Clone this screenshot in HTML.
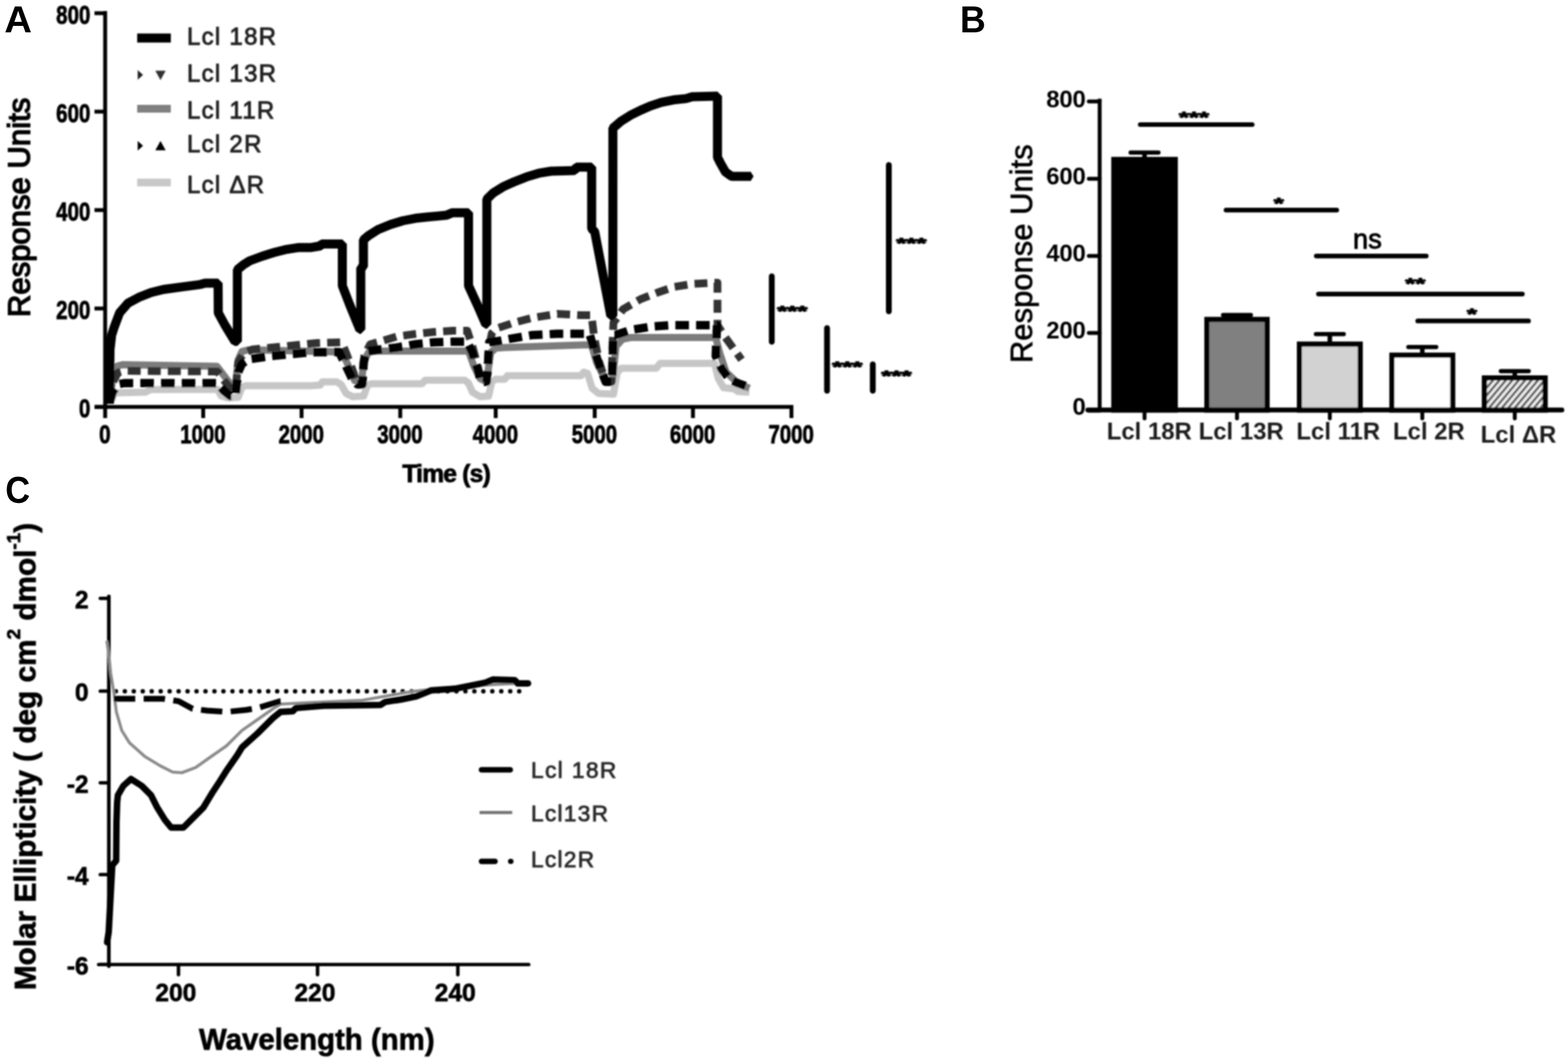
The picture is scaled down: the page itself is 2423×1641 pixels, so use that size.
<!DOCTYPE html>
<html lang="en"><head><meta charset="utf-8"><title>Figure</title>
<style>
html,body{margin:0;padding:0;background:#fff;}
body{width:2423px;height:1641px;overflow:hidden;}
svg{display:block;}
text{white-space:pre;}
</style></head><body>
<svg width="2423" height="1641" viewBox="0 0 2423 1641">
<defs>
<filter id="bl" x="-5%" y="-5%" width="110%" height="110%"><feGaussianBlur stdDeviation="1.3"/></filter>
<pattern id="hatch" width="7.6" height="7.6" patternUnits="userSpaceOnUse" patternTransform="rotate(-50)">
<rect width="7.6" height="7.6" fill="#f0f0f0"/><rect width="7.6" height="3.6" fill="#5a5a5a"/></pattern>
</defs>
<rect width="2423" height="1641" fill="#fff"/>

<text x="0" y="0" font-family="'Liberation Sans', Arial, Helvetica, sans-serif" font-size="57" font-weight="bold" text-anchor="start" fill="#000" letter-spacing="0" transform="translate(6.7 50) scale(1.035 1)" >A</text>
<text x="0" y="0" font-family="'Liberation Sans', Arial, Helvetica, sans-serif" font-size="57" font-weight="bold" text-anchor="start" fill="#000" letter-spacing="0" transform="translate(1483.5 50) scale(0.965 1)" >B</text>
<text x="0" y="0" font-family="'Liberation Sans', Arial, Helvetica, sans-serif" font-size="57" font-weight="bold" text-anchor="start" fill="#000" letter-spacing="0" transform="translate(8.2 777.2) scale(0.928 1.01)" >C</text>
<g filter="url(#bl)">
<line x1="162.5" y1="17" x2="162.5" y2="632" stroke="#000" stroke-width="6" stroke-linecap="butt" />
<line x1="146" y1="628.8" x2="1226" y2="628.8" stroke="#000" stroke-width="6" stroke-linecap="butt" />
<line x1="146" y1="628.8" x2="162.5" y2="628.8" stroke="#000" stroke-width="6" stroke-linecap="butt" />
<text x="0" y="0" font-family="'Liberation Sans', Arial, Helvetica, sans-serif" font-size="41" font-weight="bold" text-anchor="end" fill="#000" letter-spacing="0" transform="translate(139.5 645.3) scale(0.77 1)" stroke="#000" stroke-width="1.2">0</text>
<line x1="146" y1="476.69999999999993" x2="162.5" y2="476.69999999999993" stroke="#000" stroke-width="6" stroke-linecap="butt" />
<text x="0" y="0" font-family="'Liberation Sans', Arial, Helvetica, sans-serif" font-size="41" font-weight="bold" text-anchor="end" fill="#000" letter-spacing="0" transform="translate(139.5 493.19999999999993) scale(0.77 1)" stroke="#000" stroke-width="1.2">200</text>
<line x1="146" y1="324.59999999999997" x2="162.5" y2="324.59999999999997" stroke="#000" stroke-width="6" stroke-linecap="butt" />
<text x="0" y="0" font-family="'Liberation Sans', Arial, Helvetica, sans-serif" font-size="41" font-weight="bold" text-anchor="end" fill="#000" letter-spacing="0" transform="translate(139.5 341.09999999999997) scale(0.77 1)" stroke="#000" stroke-width="1.2">400</text>
<line x1="146" y1="172.5" x2="162.5" y2="172.5" stroke="#000" stroke-width="6" stroke-linecap="butt" />
<text x="0" y="0" font-family="'Liberation Sans', Arial, Helvetica, sans-serif" font-size="41" font-weight="bold" text-anchor="end" fill="#000" letter-spacing="0" transform="translate(139.5 189.0) scale(0.77 1)" stroke="#000" stroke-width="1.2">600</text>
<line x1="146" y1="20.399999999999977" x2="162.5" y2="20.399999999999977" stroke="#000" stroke-width="6" stroke-linecap="butt" />
<text x="0" y="0" font-family="'Liberation Sans', Arial, Helvetica, sans-serif" font-size="41" font-weight="bold" text-anchor="end" fill="#000" letter-spacing="0" transform="translate(139.5 36.89999999999998) scale(0.77 1)" stroke="#000" stroke-width="1.2">800</text>
<line x1="162.5" y1="628.8" x2="162.5" y2="646" stroke="#000" stroke-width="6" stroke-linecap="butt" />
<text x="0" y="0" font-family="'Liberation Sans', Arial, Helvetica, sans-serif" font-size="41" font-weight="bold" text-anchor="middle" fill="#000" letter-spacing="0" transform="translate(162.0 684.5) scale(0.77 1)" stroke="#000" stroke-width="1.2">0</text>
<line x1="314" y1="628.8" x2="314" y2="646" stroke="#000" stroke-width="6" stroke-linecap="butt" />
<text x="0" y="0" font-family="'Liberation Sans', Arial, Helvetica, sans-serif" font-size="41" font-weight="bold" text-anchor="middle" fill="#000" letter-spacing="0" transform="translate(313.5 684.5) scale(0.77 1)" stroke="#000" stroke-width="1.2">1000</text>
<line x1="466" y1="628.8" x2="466" y2="646" stroke="#000" stroke-width="6" stroke-linecap="butt" />
<text x="0" y="0" font-family="'Liberation Sans', Arial, Helvetica, sans-serif" font-size="41" font-weight="bold" text-anchor="middle" fill="#000" letter-spacing="0" transform="translate(465.5 684.5) scale(0.77 1)" stroke="#000" stroke-width="1.2">2000</text>
<line x1="618.5" y1="628.8" x2="618.5" y2="646" stroke="#000" stroke-width="6" stroke-linecap="butt" />
<text x="0" y="0" font-family="'Liberation Sans', Arial, Helvetica, sans-serif" font-size="41" font-weight="bold" text-anchor="middle" fill="#000" letter-spacing="0" transform="translate(618.0 684.5) scale(0.77 1)" stroke="#000" stroke-width="1.2">3000</text>
<line x1="766" y1="628.8" x2="766" y2="646" stroke="#000" stroke-width="6" stroke-linecap="butt" />
<text x="0" y="0" font-family="'Liberation Sans', Arial, Helvetica, sans-serif" font-size="41" font-weight="bold" text-anchor="middle" fill="#000" letter-spacing="0" transform="translate(765.5 684.5) scale(0.77 1)" stroke="#000" stroke-width="1.2">4000</text>
<line x1="919" y1="628.8" x2="919" y2="646" stroke="#000" stroke-width="6" stroke-linecap="butt" />
<text x="0" y="0" font-family="'Liberation Sans', Arial, Helvetica, sans-serif" font-size="41" font-weight="bold" text-anchor="middle" fill="#000" letter-spacing="0" transform="translate(918.5 684.5) scale(0.77 1)" stroke="#000" stroke-width="1.2">5000</text>
<line x1="1070.8" y1="628.8" x2="1070.8" y2="646" stroke="#000" stroke-width="6" stroke-linecap="butt" />
<text x="0" y="0" font-family="'Liberation Sans', Arial, Helvetica, sans-serif" font-size="41" font-weight="bold" text-anchor="middle" fill="#000" letter-spacing="0" transform="translate(1070.3 684.5) scale(0.77 1)" stroke="#000" stroke-width="1.2">6000</text>
<line x1="1223" y1="628.8" x2="1223" y2="646" stroke="#000" stroke-width="6" stroke-linecap="butt" />
<text x="0" y="0" font-family="'Liberation Sans', Arial, Helvetica, sans-serif" font-size="41" font-weight="bold" text-anchor="middle" fill="#000" letter-spacing="0" transform="translate(1222.5 684.5) scale(0.77 1)" stroke="#000" stroke-width="1.2">7000</text>
<text x="689.5" y="745" font-family="'Liberation Sans', Arial, Helvetica, sans-serif" font-size="38" font-weight="bold" text-anchor="middle" fill="#000" letter-spacing="-1.2" stroke="#000" stroke-width="1.2">Time (s)</text>
<text x="45.5" y="320.5" font-family="'Liberation Sans', Arial, Helvetica, sans-serif" font-size="48" font-weight="normal" text-anchor="middle" fill="#000" letter-spacing="0" transform="rotate(-90 45.5 320.5)" textLength="339" lengthAdjust="spacing" stroke="#000" stroke-width="2.1">Response Units</text>
<line x1="212" y1="58.7" x2="264" y2="58.7" stroke="#000" stroke-width="14" stroke-linecap="butt" />
<line x1="212" y1="168" x2="264" y2="168" stroke="#808080" stroke-width="12" stroke-linecap="butt" />
<line x1="212" y1="282" x2="264" y2="282" stroke="#c8c8c8" stroke-width="12" stroke-linecap="butt" />
<polygon points="212.75,108.3 221.0,115.8 212.75,123.3" fill="#222"/>
<polygon points="240,109.3 256,109.3 248,123.7" fill="#333"/>
<polygon points="212.75,217.7 221.0,225.2 212.75,232.7" fill="#000"/>
<polygon points="240,232.2 256,232.2 248,217.8" fill="#000"/>
<text x="289" y="68.5" font-family="'Liberation Sans', Arial, Helvetica, sans-serif" font-size="37" font-weight="normal" text-anchor="start" fill="#222" letter-spacing="2" stroke="#222" stroke-width="1.3">Lcl 18R</text>
<text x="289" y="125.7" font-family="'Liberation Sans', Arial, Helvetica, sans-serif" font-size="37" font-weight="normal" text-anchor="start" fill="#222" letter-spacing="2" stroke="#222" stroke-width="1.3">Lcl 13R</text>
<text x="289" y="183" font-family="'Liberation Sans', Arial, Helvetica, sans-serif" font-size="37" font-weight="normal" text-anchor="start" fill="#222" letter-spacing="2" stroke="#222" stroke-width="1.3">Lcl 11R</text>
<text x="289" y="235" font-family="'Liberation Sans', Arial, Helvetica, sans-serif" font-size="37" font-weight="normal" text-anchor="start" fill="#222" letter-spacing="2" stroke="#222" stroke-width="1.3">Lcl 2R</text>
<text x="289" y="298" font-family="'Liberation Sans', Arial, Helvetica, sans-serif" font-size="37" font-weight="normal" text-anchor="start" fill="#222" letter-spacing="2" stroke="#222" stroke-width="1.3">Lcl ΔR</text>
<polyline points="172.0,618.0 177.0,607.0 225.0,606.0 232.0,602.0 336.0,601.5 342.0,612.0 352.0,615.0 368.0,614.0 374.0,598.0 380.0,596.0 480.0,596.0 495.0,595.0 498.0,590.0 520.0,590.0 527.0,594.0 535.0,608.0 545.0,613.0 562.0,612.0 568.0,595.0 574.0,593.0 652.0,593.0 657.0,587.5 718.0,587.5 724.0,592.0 730.0,606.0 742.0,613.0 755.0,612.0 760.0,590.0 766.0,586.0 780.0,586.0 784.0,580.6 898.0,580.6 902.0,575.0 908.0,577.0 915.0,600.0 925.0,608.0 948.0,609.0 954.0,575.0 960.0,569.0 1014.0,569.0 1020.0,561.5 1104.0,561.5 1110.0,585.0 1118.0,599.0 1135.0,601.0 1140.0,605.0 1158.0,606.0" fill="none" stroke="#c6c6c6" stroke-width="11" stroke-linejoin="round" stroke-linecap="butt" />
<polyline points="170.0,620.0 174.0,585.0 180.0,566.0 190.0,563.4 335.0,566.0 342.0,575.0 355.0,592.0 364.0,596.0 368.0,556.0 374.0,543.0 384.0,540.5 528.0,544.0 536.0,560.0 548.0,588.0 558.0,592.0 563.0,556.0 570.0,544.0 580.0,542.5 724.0,542.5 732.0,565.0 742.0,585.0 752.0,590.0 758.0,545.0 766.0,538.0 780.0,537.0 900.0,533.0 914.0,533.0 922.0,560.0 936.0,588.0 946.0,590.0 952.0,535.0 962.0,524.0 975.0,521.5 1106.0,521.5 1112.0,545.0 1122.0,575.0 1140.0,592.0 1158.0,600.0" fill="none" stroke="#7c7c7c" stroke-width="11" stroke-linejoin="round" stroke-linecap="butt" />
<polyline points="170.0,620.0 174.0,592.0 182.0,576.0 192.0,573.0 336.0,574.0 344.0,585.0 356.0,600.0 364.0,604.0 368.0,560.0 376.0,546.0 390.0,540.0 420.0,537.0 460.0,533.0 490.0,530.0 528.0,529.0 536.0,548.0 546.0,575.0 552.0,594.0 560.0,594.0 563.0,550.0 572.0,532.0 590.0,527.0 613.0,520.0 642.0,516.0 670.0,513.0 700.0,511.0 722.0,511.0 730.0,535.0 738.0,565.0 744.0,590.0 752.0,590.0 755.0,540.0 760.0,515.0 766.0,508.0 794.0,498.6 823.0,491.0 861.0,485.0 898.0,487.0 914.0,487.0 918.0,520.0 926.0,560.0 936.0,590.0 945.0,590.0 947.0,520.0 948.0,498.6 963.0,477.7 989.6,462.4 1016.3,452.0 1041.0,443.4 1071.5,438.6 1108.7,436.7 1108.7,502.4 1120.0,520.0 1145.9,555.8" fill="none" stroke="#333" stroke-width="12" stroke-linejoin="round" stroke-linecap="butt" stroke-dasharray="20 11" />
<polyline points="170.0,620.0 174.0,606.0 182.0,594.0 192.0,592.0 336.0,592.0 346.0,604.0 356.0,612.0 364.0,612.0 368.0,575.0 374.0,562.0 385.0,555.0 420.0,550.0 480.0,544.4 524.0,544.0 532.0,560.0 544.0,585.0 552.4,594.0 560.0,594.0 562.0,560.0 566.0,543.0 580.0,541.0 613.0,537.0 642.0,532.0 670.0,529.0 700.0,528.0 722.0,528.0 730.0,545.0 738.0,570.0 743.0,590.0 752.0,590.0 754.4,560.0 756.0,529.0 770.0,527.0 789.0,523.4 823.0,517.7 861.0,515.8 911.0,515.8 918.0,540.0 928.0,570.0 936.0,590.0 946.0,590.0 947.7,517.7 951.0,517.7 974.0,510.0 1008.6,504.4 1037.0,502.4 1108.0,502.4 1106.0,550.0 1115.0,570.0 1127.0,586.0 1140.0,592.0 1161.0,599.6" fill="none" stroke="#000" stroke-width="13" stroke-linejoin="round" stroke-linecap="butt" stroke-dasharray="21 11" />
<polyline points="169.0,624.0 170.0,540.0 172.5,518.0 176.2,506.3 184.8,483.4 198.1,468.2 214.3,459.6 233.4,452.0 252.5,447.2 281.0,443.4 309.6,439.6 317.0,437.5 337.0,437.5 337.3,483.4 347.7,502.5 363.0,527.5 366.8,527.5 366.8,416.7 376.3,409.0 385.9,403.0 405.0,396.0 424.0,390.0 443.0,385.3 462.0,382.4 481.0,382.4 495.0,380.0 497.0,377.0 529.0,377.0 529.0,441.5 540.0,470.0 556.0,509.0 557.5,509.0 557.5,414.0 561.6,412.0 561.6,370.6 569.6,364.0 584.8,354.4 603.9,346.8 622.9,341.0 642.0,337.3 661.0,335.3 690.0,332.5 699.0,328.7 724.0,328.7 724.0,441.5 738.0,472.0 750.6,501.0 752.3,501.0 752.3,307.7 762.0,298.2 777.3,288.7 794.4,281.0 813.5,273.4 832.5,267.7 851.6,264.5 888.0,263.5 890.5,258.2 914.3,258.2 914.3,353.5 919.0,358.0 943.9,488.0 947.0,488.0 947.1,198.1 959.1,187.7 974.3,178.1 989.6,170.5 1004.8,163.8 1022.0,158.1 1041.0,154.3 1060.0,152.4 1069.6,149.5 1108.7,148.6 1108.7,243.0 1113.5,252.5 1121.0,265.8 1130.6,272.5 1160.5,272.5" fill="none" stroke="#000" stroke-width="14" stroke-linejoin="bevel" stroke-linecap="butt" />
<polygon points="1160,265.5 1164.5,272.5 1160,279.5" fill="#000"/>
<line x1="1192.6" y1="427" x2="1192.6" y2="528" stroke="#000" stroke-width="9" stroke-linecap="round" />
<text x="0" y="0" font-family="'Liberation Sans', Arial, Helvetica, sans-serif" font-size="40" font-weight="bold" text-anchor="start" fill="#000" letter-spacing="0" transform="translate(1201 488) scale(1 0.55)" stroke="#000" stroke-width="2.6" stroke-linejoin="round">***</text>
<line x1="1373.5" y1="255" x2="1373.5" y2="481" stroke="#000" stroke-width="9" stroke-linecap="round" />
<text x="0" y="0" font-family="'Liberation Sans', Arial, Helvetica, sans-serif" font-size="40" font-weight="bold" text-anchor="start" fill="#000" letter-spacing="0" transform="translate(1385 383.5) scale(1 0.55)" stroke="#000" stroke-width="2.6" stroke-linejoin="round">***</text>
<line x1="1278" y1="507" x2="1278" y2="603.8" stroke="#000" stroke-width="9" stroke-linecap="round" />
<text x="0" y="0" font-family="'Liberation Sans', Arial, Helvetica, sans-serif" font-size="40" font-weight="bold" text-anchor="start" fill="#000" letter-spacing="0" transform="translate(1286 574) scale(1 0.55)" stroke="#000" stroke-width="2.6" stroke-linejoin="round">***</text>
<line x1="1348.7" y1="563" x2="1348.7" y2="603.8" stroke="#000" stroke-width="9" stroke-linecap="round" />
<text x="0" y="0" font-family="'Liberation Sans', Arial, Helvetica, sans-serif" font-size="40" font-weight="bold" text-anchor="start" fill="#000" letter-spacing="0" transform="translate(1362 588) scale(1 0.55)" stroke="#000" stroke-width="2.6" stroke-linejoin="round">***</text>
<line x1="1699.3" y1="152.5" x2="1699.3" y2="637" stroke="#000" stroke-width="6" stroke-linecap="butt" />
<line x1="1681" y1="633.6" x2="2413.5" y2="633.6" stroke="#000" stroke-width="7.5" stroke-linecap="round" />
<line x1="1682.5" y1="634.5" x2="1699.3" y2="634.5" stroke="#000" stroke-width="6" stroke-linecap="round" />
<text x="1677.5" y="641.4" font-family="'Liberation Sans', Arial, Helvetica, sans-serif" font-size="37" font-weight="bold" text-anchor="end" fill="#000" letter-spacing="-0.3" >0</text>
<line x1="1682.5" y1="514.5" x2="1699.3" y2="514.5" stroke="#000" stroke-width="6" stroke-linecap="round" />
<text x="1677.5" y="522.5" font-family="'Liberation Sans', Arial, Helvetica, sans-serif" font-size="37" font-weight="bold" text-anchor="end" fill="#000" letter-spacing="-0.3" >200</text>
<line x1="1682.5" y1="395.6" x2="1699.3" y2="395.6" stroke="#000" stroke-width="6" stroke-linecap="round" />
<text x="1677.5" y="403.6" font-family="'Liberation Sans', Arial, Helvetica, sans-serif" font-size="37" font-weight="bold" text-anchor="end" fill="#000" letter-spacing="-0.3" >400</text>
<line x1="1682.5" y1="276.3" x2="1699.3" y2="276.3" stroke="#000" stroke-width="6" stroke-linecap="round" />
<text x="1677.5" y="284.7" font-family="'Liberation Sans', Arial, Helvetica, sans-serif" font-size="37" font-weight="bold" text-anchor="end" fill="#000" letter-spacing="-0.3" >600</text>
<line x1="1682.5" y1="156.8" x2="1699.3" y2="156.8" stroke="#000" stroke-width="6" stroke-linecap="round" />
<text x="1677.5" y="165.8" font-family="'Liberation Sans', Arial, Helvetica, sans-serif" font-size="37" font-weight="bold" text-anchor="end" fill="#000" letter-spacing="-0.3" >800</text>
<rect x="1721.2" y="246.4" width="94.9" height="387.2" fill="#000" stroke="#000" stroke-width="8"/>
<line x1="1768.65" y1="235.8" x2="1768.65" y2="244.4" stroke="#000" stroke-width="7" stroke-linecap="butt" />
<line x1="1747.15" y1="235.8" x2="1790.15" y2="235.8" stroke="#000" stroke-width="6.5" stroke-linecap="round" />
<line x1="1768.65" y1="633.6" x2="1768.65" y2="646.6" stroke="#000" stroke-width="6" stroke-linecap="round" />
<rect x="1865.0" y="493.6" width="93.0" height="140.0" fill="#808080" stroke="#000" stroke-width="8"/>
<line x1="1911.5" y1="486.7" x2="1911.5" y2="491.6" stroke="#000" stroke-width="7" stroke-linecap="butt" />
<line x1="1890.0" y1="486.7" x2="1933.0" y2="486.7" stroke="#000" stroke-width="6.5" stroke-linecap="round" />
<line x1="1911.5" y1="633.6" x2="1911.5" y2="646.6" stroke="#000" stroke-width="6" stroke-linecap="round" />
<rect x="2008.0" y="531.7" width="93.9" height="101.9" fill="#d2d2d2" stroke="#000" stroke-width="8"/>
<line x1="2054.95" y1="516.2" x2="2054.95" y2="529.7" stroke="#000" stroke-width="7" stroke-linecap="butt" />
<line x1="2033.4499999999998" y1="516.2" x2="2076.45" y2="516.2" stroke="#000" stroke-width="6.5" stroke-linecap="round" />
<line x1="2054.95" y1="633.6" x2="2054.95" y2="646.6" stroke="#000" stroke-width="6" stroke-linecap="round" />
<rect x="2150.9" y="548.8" width="93.9" height="84.8" fill="#fff" stroke="#000" stroke-width="8"/>
<line x1="2197.8500000000004" y1="536.3" x2="2197.8500000000004" y2="546.8" stroke="#000" stroke-width="7" stroke-linecap="butt" />
<line x1="2176.3500000000004" y1="536.3" x2="2219.3500000000004" y2="536.3" stroke="#000" stroke-width="6.5" stroke-linecap="round" />
<line x1="2197.8500000000004" y1="633.6" x2="2197.8500000000004" y2="646.6" stroke="#000" stroke-width="6" stroke-linecap="round" />
<rect x="2293.8" y="584.0" width="93.9" height="49.6" fill="url(#hatch)" stroke="#000" stroke-width="8"/>
<line x1="2340.75" y1="573.4" x2="2340.75" y2="582" stroke="#000" stroke-width="7" stroke-linecap="butt" />
<line x1="2319.25" y1="573.4" x2="2362.25" y2="573.4" stroke="#000" stroke-width="6.5" stroke-linecap="round" />
<line x1="2340.75" y1="633.6" x2="2340.75" y2="646.6" stroke="#000" stroke-width="6" stroke-linecap="round" />
<line x1="1762" y1="192.5" x2="1935" y2="192.5" stroke="#000" stroke-width="7.2" stroke-linecap="round" />
<text x="0" y="0" font-family="'Liberation Sans', Arial, Helvetica, sans-serif" font-size="40" font-weight="bold" text-anchor="middle" fill="#000" letter-spacing="0" transform="translate(1845 189.5) scale(1 0.6)" stroke="#000" stroke-width="2.2" stroke-linejoin="round">***</text>
<line x1="1894.6" y1="324.7" x2="2065.6" y2="324.7" stroke="#000" stroke-width="7.2" stroke-linecap="round" />
<text x="0" y="0" font-family="'Liberation Sans', Arial, Helvetica, sans-serif" font-size="40" font-weight="bold" text-anchor="middle" fill="#000" letter-spacing="0" transform="translate(1976 322.5) scale(1 0.6)" stroke="#000" stroke-width="2.2" stroke-linejoin="round">*</text>
<line x1="2034" y1="395.6" x2="2204" y2="395.6" stroke="#000" stroke-width="7.2" stroke-linecap="round" />
<line x1="2037.4" y1="454.3" x2="2352.5" y2="454.3" stroke="#000" stroke-width="7.2" stroke-linecap="round" />
<text x="0" y="0" font-family="'Liberation Sans', Arial, Helvetica, sans-serif" font-size="40" font-weight="bold" text-anchor="middle" fill="#000" letter-spacing="0" transform="translate(2187 447) scale(1 0.6)" stroke="#000" stroke-width="2.2" stroke-linejoin="round">**</text>
<line x1="2190.8" y1="495.9" x2="2362" y2="495.9" stroke="#000" stroke-width="7.2" stroke-linecap="round" />
<text x="0" y="0" font-family="'Liberation Sans', Arial, Helvetica, sans-serif" font-size="40" font-weight="bold" text-anchor="middle" fill="#000" letter-spacing="0" transform="translate(2274.5 494) scale(1 0.6)" stroke="#000" stroke-width="2.2" stroke-linejoin="round">*</text>
<text x="2113" y="383.5" font-family="'Liberation Sans', Arial, Helvetica, sans-serif" font-size="42" font-weight="normal" text-anchor="middle" fill="#000" letter-spacing="0" stroke="#000" stroke-width="1.3">ns</text>
<text x="1776" y="679" font-family="'Liberation Sans', Arial, Helvetica, sans-serif" font-size="37" font-weight="bold" text-anchor="middle" fill="#1c1c1c" letter-spacing="0" >Lcl 18R</text>
<text x="1918" y="679" font-family="'Liberation Sans', Arial, Helvetica, sans-serif" font-size="37" font-weight="bold" text-anchor="middle" fill="#1c1c1c" letter-spacing="0" >Lcl 13R</text>
<text x="2068" y="679" font-family="'Liberation Sans', Arial, Helvetica, sans-serif" font-size="37" font-weight="bold" text-anchor="middle" fill="#1c1c1c" letter-spacing="0" >Lcl 11R</text>
<text x="2208" y="679" font-family="'Liberation Sans', Arial, Helvetica, sans-serif" font-size="37" font-weight="bold" text-anchor="middle" fill="#1c1c1c" letter-spacing="0" >Lcl 2R</text>
<text x="2346.5" y="683.5" font-family="'Liberation Sans', Arial, Helvetica, sans-serif" font-size="37" font-weight="bold" text-anchor="middle" fill="#1c1c1c" letter-spacing="0" >Lcl ΔR</text>
<text x="1595" y="392" font-family="'Liberation Sans', Arial, Helvetica, sans-serif" font-size="48" font-weight="normal" text-anchor="middle" fill="#000" letter-spacing="0" transform="rotate(-90 1595 392)" textLength="338" lengthAdjust="spacingAndGlyphs" stroke="#000" stroke-width="1">Response Units</text>
<line x1="168.2" y1="921.5" x2="168.2" y2="1493" stroke="#000" stroke-width="5.6" stroke-linecap="round" />
<line x1="152.5" y1="1490.4" x2="817" y2="1490.4" stroke="#000" stroke-width="5.4" stroke-linecap="round" />
<line x1="155" y1="924.6" x2="168.2" y2="924.6" stroke="#000" stroke-width="5.4" stroke-linecap="round" />
<text x="137" y="940.1" font-family="'Liberation Sans', Arial, Helvetica, sans-serif" font-size="38" font-weight="bold" text-anchor="end" fill="#000" letter-spacing="0" stroke="#000" stroke-width="0.9">2</text>
<line x1="155" y1="1067.9" x2="168.2" y2="1067.9" stroke="#000" stroke-width="5.4" stroke-linecap="round" />
<text x="137" y="1083.4" font-family="'Liberation Sans', Arial, Helvetica, sans-serif" font-size="38" font-weight="bold" text-anchor="end" fill="#000" letter-spacing="0" stroke="#000" stroke-width="0.9">0</text>
<line x1="155" y1="1209.6" x2="168.2" y2="1209.6" stroke="#000" stroke-width="5.4" stroke-linecap="round" />
<text x="137" y="1225.1" font-family="'Liberation Sans', Arial, Helvetica, sans-serif" font-size="38" font-weight="bold" text-anchor="end" fill="#000" letter-spacing="0" stroke="#000" stroke-width="0.9">-2</text>
<line x1="155" y1="1351.4" x2="168.2" y2="1351.4" stroke="#000" stroke-width="5.4" stroke-linecap="round" />
<text x="137" y="1366.9" font-family="'Liberation Sans', Arial, Helvetica, sans-serif" font-size="38" font-weight="bold" text-anchor="end" fill="#000" letter-spacing="0" stroke="#000" stroke-width="0.9">-4</text>
<line x1="155" y1="1490.4" x2="168.2" y2="1490.4" stroke="#000" stroke-width="5.4" stroke-linecap="round" />
<text x="137" y="1505.9" font-family="'Liberation Sans', Arial, Helvetica, sans-serif" font-size="38" font-weight="bold" text-anchor="end" fill="#000" letter-spacing="0" stroke="#000" stroke-width="0.9">-6</text>
<line x1="275.8" y1="1490.4" x2="275.8" y2="1506" stroke="#000" stroke-width="5.4" stroke-linecap="round" />
<text x="271.8" y="1546.5" font-family="'Liberation Sans', Arial, Helvetica, sans-serif" font-size="38" font-weight="bold" text-anchor="middle" fill="#000" letter-spacing="0" stroke="#000" stroke-width="0.9">200</text>
<line x1="490.7" y1="1490.4" x2="490.7" y2="1506" stroke="#000" stroke-width="5.4" stroke-linecap="round" />
<text x="486.7" y="1546.5" font-family="'Liberation Sans', Arial, Helvetica, sans-serif" font-size="38" font-weight="bold" text-anchor="middle" fill="#000" letter-spacing="0" stroke="#000" stroke-width="0.9">220</text>
<line x1="707.5" y1="1490.4" x2="707.5" y2="1506" stroke="#000" stroke-width="5.4" stroke-linecap="round" />
<text x="703.5" y="1546.5" font-family="'Liberation Sans', Arial, Helvetica, sans-serif" font-size="38" font-weight="bold" text-anchor="middle" fill="#000" letter-spacing="0" stroke="#000" stroke-width="0.9">240</text>
<text x="489.5" y="1622" font-family="'Liberation Sans', Arial, Helvetica, sans-serif" font-size="46" font-weight="bold" text-anchor="middle" fill="#000" letter-spacing="0" textLength="364" lengthAdjust="spacingAndGlyphs" stroke="#000" stroke-width="1">Wavelength (nm)</text>
<text x="55" y="1169" font-family="'Liberation Sans', Arial, Helvetica, sans-serif" font-size="46" font-weight="bold" text-anchor="middle" fill="#000" letter-spacing="0" transform="rotate(-90 55 1169)" textLength="722" lengthAdjust="spacingAndGlyphs" stroke="#000" stroke-width="1">Molar Ellipticity ( deg cm<tspan dy="-24" font-size="29">2</tspan><tspan dy="24"> dmol</tspan><tspan dy="-24" font-size="29">-1</tspan><tspan dy="24">)</tspan></text>
<line x1="179" y1="1068.2" x2="813" y2="1068.2" stroke="#000" stroke-width="6.8" stroke-linecap="round" stroke-dasharray="0.1 13.75"/>
<polyline points="165.0,990.0 168.0,1010.0 171.0,1040.0 176.2,1071.5 179.8,1100.0 188.1,1128.6 200.0,1147.7 223.9,1169.0 247.7,1183.4 266.7,1193.0 281.0,1194.0 302.5,1185.8 326.3,1169.0 350.0,1152.5 374.0,1128.6 397.8,1112.0 421.6,1095.3 433.5,1088.0 470.0,1086.0 560.0,1082.0 600.0,1075.0 640.0,1068.0 700.0,1062.0 760.0,1058.0 800.0,1056.0" fill="none" stroke="#8a8a8a" stroke-width="4.6" stroke-linejoin="round" stroke-linecap="butt" />
<polyline points="176.0,1079.8 252.0,1079.8 276.0,1083.5 297.7,1095.3 320.0,1098.0 350.0,1100.0 380.0,1097.0 398.0,1094.0 433.5,1083.4 445.0,1083.0" fill="none" stroke="#000" stroke-width="9" stroke-linejoin="round" stroke-linecap="butt" stroke-dasharray="33 13" />
<polyline points="165.5,1456.0 168.0,1440.0 171.0,1383.0 173.5,1337.0 179.5,1330.0 180.0,1270.0 181.0,1240.0 182.2,1228.7 190.5,1214.4 202.4,1203.7 219.1,1214.4 233.4,1228.7 242.9,1247.7 254.8,1266.8 264.4,1278.7 283.4,1278.7 302.5,1259.6 314.4,1247.7 328.7,1223.9 338.2,1209.6 350.1,1190.6 366.8,1166.7 374.0,1154.8 397.8,1133.4 421.6,1109.6 433.5,1100.0 452.5,1098.9 457.3,1094.0 500.0,1090.5 588.0,1089.3 595.3,1084.6 619.0,1081.0 643.0,1076.2 666.7,1066.7 702.5,1064.3 726.3,1059.6 750.0,1054.8 762.0,1050.0 795.4,1051.0 800.0,1056.0 816.0,1056.0" fill="none" stroke="#000" stroke-width="10" stroke-linejoin="round" stroke-linecap="round" />
<line x1="744" y1="1189.4" x2="788.5" y2="1189.4" stroke="#000" stroke-width="8.5" stroke-linecap="round" />
<line x1="741" y1="1255.6" x2="791.5" y2="1255.6" stroke="#777" stroke-width="5" stroke-linecap="butt" />
<line x1="744" y1="1331.1" x2="765" y2="1331.1" stroke="#000" stroke-width="8.5" stroke-linecap="round" />
<line x1="789" y1="1331.1" x2="789.5" y2="1331.1" stroke="#000" stroke-width="8" stroke-linecap="round" />
<text x="820.5" y="1202" font-family="'Liberation Sans', Arial, Helvetica, sans-serif" font-size="35" font-weight="normal" text-anchor="start" fill="#2a2a2a" letter-spacing="2.2" stroke="#2a2a2a" stroke-width="1.2">Lcl 18R</text>
<text x="820.5" y="1268.5" font-family="'Liberation Sans', Arial, Helvetica, sans-serif" font-size="35" font-weight="normal" text-anchor="start" fill="#2a2a2a" letter-spacing="2" stroke="#2a2a2a" stroke-width="1.2">Lcl13R</text>
<text x="820.5" y="1340" font-family="'Liberation Sans', Arial, Helvetica, sans-serif" font-size="35" font-weight="normal" text-anchor="start" fill="#2a2a2a" letter-spacing="2" stroke="#2a2a2a" stroke-width="1.2">Lcl2R</text>
</g>
</svg></body></html>
